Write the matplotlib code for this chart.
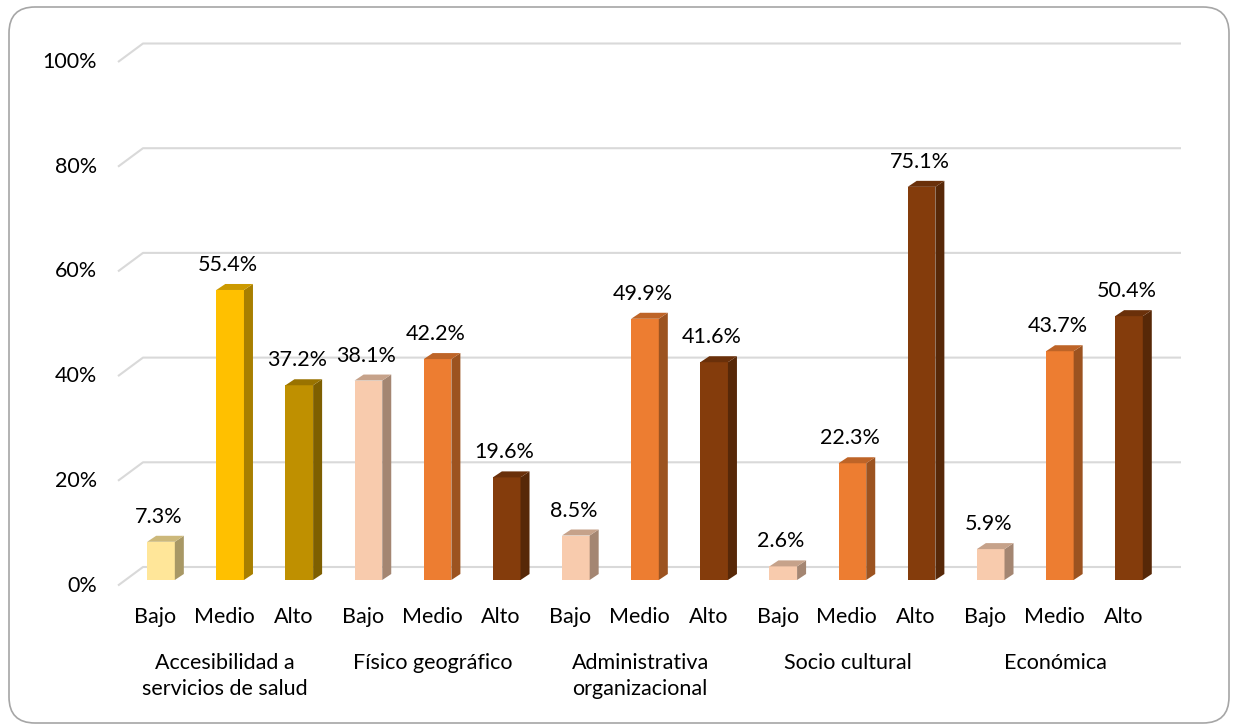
import matplotlib.pyplot as plt
from matplotlib.patches import Polygon, FancyBboxPatch
from matplotlib.colors import to_rgb

plt.rcParams['font.family'] = ['Lato', 'DejaVu Sans']

groups = ['Accesibilidad a\nservicios de salud', 'Físico geográfico',
          'Administrativa\norganizacional', 'Socio cultural', 'Económica']
levels = ['Bajo', 'Medio', 'Alto']
values = [
    [7.3, 55.4, 37.2],
    [38.1, 42.2, 19.6],
    [8.5, 49.9, 41.6],
    [2.6, 22.3, 75.1],
    [5.9, 43.7, 50.4],
]
yticks = [0, 20, 40, 60, 80, 100]

gold = ['#FFE699', '#FFC000', '#BF9000']
orange = ['#F8CBAD', '#ED7D31', '#843C0C']
colors = [gold, orange, orange, orange, orange]


def shade(c, f):
    r, g, b = to_rgb(c)
    return (r * f, g * f, b * f)


W, H = 1236, 724
fig = plt.figure(figsize=(W / 100, H / 100), dpi=100)

# pixel mapping: x = 161 + 69.14*i ; y = 580 - 5.235*v
px_x0, px_dx = 161, 69.14
px_y0, px_dy = 580, 5.235
left_px, right_px, top_px, bot_px = 20, 1220, 20, 720
ax = fig.add_axes([left_px / W, 1 - bot_px / H, (right_px - left_px) / W,
                   (bot_px - top_px) / H])
ax.set_xlim((left_px - px_x0) / px_dx, (right_px - px_x0) / px_dx)
ax.set_ylim((px_y0 - bot_px) / px_dy, (px_y0 - top_px) / px_dy)
ax.axis('off')

fs = 15.5
bw = 0.40
dx = 9 / px_dx
dy = 6 / px_dy
back = 13 / px_dy
front = -5.5 / px_dy
gx0 = (143 - px_x0) / px_dx
gx_front = (118 - px_x0) / px_dx
gx1 = (1181 - px_x0) / px_dx

grid_c = '#d9d9d9'
for t in yticks:
    ax.plot([gx_front, gx0, gx1], [t + front, t + back, t + back],
            color=grid_c, lw=1.5, solid_capstyle='butt', zorder=1)
    ax.text((97 - px_x0) / px_dx, t + front, f'{t}%', ha='right', va='center',
            fontsize=fs, color='#000000')

for g, (gname, vals) in enumerate(zip(groups, values)):
    for k, v in enumerate(vals):
        i = g * 3 + k
        c = colors[g][k]
        x0 = i - bw / 2
        x1 = i + bw / 2
        ax.bar(i, v, width=bw, color=c, zorder=3)
        ax.add_patch(Polygon([(x1, 0), (x1 + dx, dy), (x1 + dx, v + dy), (x1, v)],
                             closed=True, facecolor=shade(c, 0.66), edgecolor='none', zorder=3))
        ax.add_patch(Polygon([(x0, v), (x0 + dx, v + dy), (x1 + dx, v + dy), (x1, v)],
                             closed=True, facecolor=shade(c, 0.8), edgecolor='none', zorder=3))
        ax.annotate(f'{v:.1f}%', (i - 0.03, v), xytext=(0, 18), textcoords='offset points',
                    ha='center', va='center', fontsize=fs, color='#000000', zorder=4)
        ax.text(i - 0.08, (px_y0 - 617) / px_dy, levels[k], ha='center', va='center',
                fontsize=fs, color='#000000')
    for n, line in enumerate(gname.split('\n')):
        ax.text(g * 3 + 1 - 0.07, (px_y0 - 663 - 26 * n) / px_dy, line, ha='center',
                va='center', fontsize=fs, color='#000000')

# rounded chart border in pixel coordinates
bax = fig.add_axes([0, 0, 1, 1], zorder=-1)
bax.set_xlim(0, W)
bax.set_ylim(H, 0)
bax.axis('off')
bax.add_patch(FancyBboxPatch((9, 7), 1220, 716, boxstyle='round,pad=0,rounding_size=26',
                             facecolor='white', edgecolor='#a6a6a6', lw=1.2))

fig.savefig('out.png', dpi=100)
